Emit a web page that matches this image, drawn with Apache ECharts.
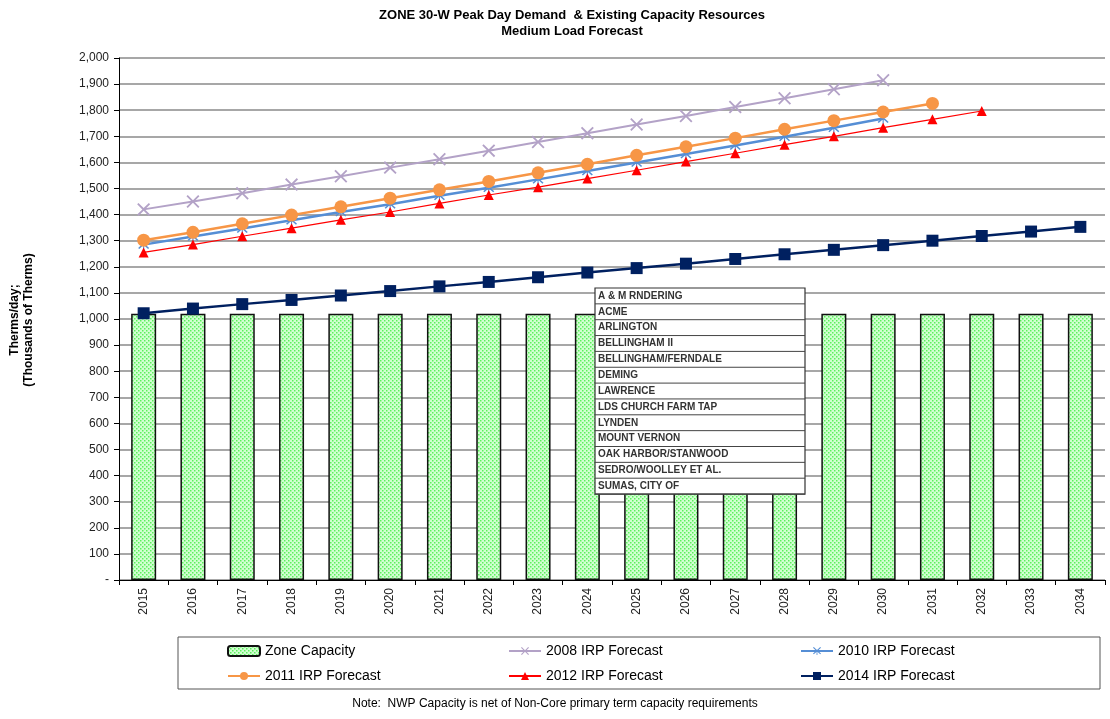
<!DOCTYPE html>
<html>
<head>
<meta charset="utf-8">
<script src="https://cdn.jsdelivr.net/npm/echarts@6/dist/echarts.min.js"></script>
<style>
html,body{margin:0;padding:0;background:#fff;}
#chartmain{width:1110px;height:719px;}
</style>
</head>
<body>
<div id="chartmain"></div>
<script>
var years = ['2015','2016','2017','2018','2019','2020','2021','2022','2023','2024','2025','2026','2027','2028','2029','2030','2031','2032','2033','2034'];
var zoneCapacity = [1020,1020,1020,1020,1020,1020,1020,1020,1020,1020,1020,1020,1020,1020,1020,1020,1020,1020,1020,1020];
var irp2008 = [1420,1450,1482,1515,1547,1580,1612,1645,1678,1712,1745,1778,1812,1846,1880,1915];
var irp2010 = [1285,1316,1347,1378,1410,1440,1472,1503,1535,1567,1600,1632,1665,1698,1733,1768];
var irp2011 = [1302,1332,1365,1398,1430,1463,1495,1527,1560,1593,1627,1660,1693,1727,1760,1793,1826];
var irp2012 = [1255,1285,1317,1348,1380,1410,1443,1475,1505,1538,1570,1603,1635,1668,1700,1733,1765,1797];
var irp2014 = [1022,1040,1057,1073,1090,1107,1125,1142,1160,1178,1195,1212,1230,1248,1265,1283,1300,1318,1335,1353];
var gateNames = ['A & M RNDERING','ACME','ARLINGTON','BELLINGHAM II','BELLINGHAM/FERNDALE','DEMING','LAWRENCE','LDS CHURCH FARM TAP','LYNDEN','MOUNT VERNON','OAK HARBOR/STANWOOD','SEDRO/WOOLLEY ET AL.','SUMAS, CITY OF'];

// dotted green fill for the capacity bars
function dotPattern(){
	var c = document.createElement('canvas');
	c.width = 4; c.height = 4;
	var ctx = c.getContext('2d');
	ctx.fillStyle = '#d0ffd0';
	ctx.fillRect(0,0,4,4);
	ctx.fillStyle = '#5cf05c';
	ctx.fillRect(0,0,1.5,1.5);
	ctx.fillRect(2,2,1.5,1.5);
	return c;
}

var crossPath = 'path://M0,1L1,0L5,4L9,0L10,1L6,5L10,9L9,10L5,6L1,10L0,9L4,5Z';
var starPath = 'path://M0,1L1,0L5,4L9,0L10,1L6,5L10,9L9,10L5.5,6.5L5.5,11L4.5,11L4.5,6.5L1,10L0,9L4,5Z';

// the list box of gate stations laid over the chart
var boxLeft = 595, boxTop = 288, rowH = 15.85, boxW = 210;
var boxItems = [{
	type:'rect', shape:{x:boxLeft,y:boxTop,width:boxW,height:rowH*gateNames.length},
	style:{fill:'#fff',stroke:'#333',lineWidth:1.2}, z:100
}];
for(var i=0;i<gateNames.length;i++){
	boxItems.push({
		type:'line', shape:{x1:boxLeft,y1:boxTop+rowH*(i+1),x2:boxLeft+boxW,y2:boxTop+rowH*(i+1)},
		style:{stroke:'#444',lineWidth:1}, z:101
	});
	boxItems.push({
		type:'text', left:boxLeft+3, top:boxTop+rowH*i+3,
		style:{text:gateNames[i],fill:'#333',font:'bold 10px Arial'}, z:102
	});
}
boxItems.push({
	type:'rect', shape:{x:178,y:637,width:922,height:52},
	style:{fill:null,stroke:'#555',lineWidth:1}, z:1
});

var legendFont = {fontFamily:'Arial',fontSize:14,color:'#000'};
function leg(name,left,top){
	return {data:[name],left:left,top:top,itemWidth:32,itemHeight:10,textStyle:legendFont,selectedMode:false};
}

var myChart = echarts.init(document.getElementById('chartmain'));
var option = {
	animation:false,
	backgroundColor:'#fff',
	title:{
		text:'ZONE 30-W Peak Day Demand  & Existing Capacity Resources\nMedium Load Forecast',
		left:567, top:2, textAlign:'center',
		textStyle:{fontFamily:'Arial',fontSize:13,fontWeight:'bold',lineHeight:16,color:'#000'}
	},
	legend:[
		leg('Zone Capacity',222,639),
		leg('2008 IRP Forecast',503,639),
		leg('2010 IRP Forecast',795,639),
		leg('2011 IRP Forecast',222,664),
		leg('2012 IRP Forecast',503,664),
		leg('2014 IRP Forecast',795,664)
	],
	graphic:[
		{type:'group',children:boxItems},
		{type:'text',left:'center',top:698,style:{text:'Note:  NWP Capacity is net of Non-Core primary term capacity requirements',fill:'#000',font:'12px Arial'}},
		{type:'text',x:22,y:320,rotation:Math.PI/2,style:{text:'Therms/day;\n(Thousands of Therms)',fill:'#000',font:'bold 12px Arial',align:'center',verticalAlign:'middle',lineHeight:14}}
	],
	grid:{left:119,right:5,top:58,bottom:139},
	xAxis:{
		type:'category', data:years,
		axisLine:{lineStyle:{color:'#000',width:1}},
		axisTick:{show:true,length:5,lineStyle:{color:'#000'}},
		axisLabel:{rotate:90,fontFamily:'Arial',fontSize:12,color:'#222',margin:8}
	},
	yAxis:{
		type:'value', min:0, max:2000, interval:100,
		axisLine:{show:true,lineStyle:{color:'#000',width:1}},
		axisTick:{show:true,length:5,lineStyle:{color:'#000'}},
		axisLabel:{fontFamily:'Arial',fontSize:12,color:'#222',margin:10,
			formatter:function(v){ return v===0 ? '-' : v.toLocaleString('en-US'); }},
		splitLine:{lineStyle:{color:'#8a8a8a',width:1.5}}
	},
	series:[
		{
			name:'Zone Capacity', type:'bar', data:zoneCapacity, barWidth:25,
			itemStyle:{color:{image:dotPattern(),repeat:'repeat'},borderColor:'#111',borderWidth:1.5}
		},
		{
			name:'2008 IRP Forecast', type:'line', data:irp2008,
			symbol:crossPath, symbolSize:13,
			lineStyle:{color:'#b3a2c7',width:2}, itemStyle:{color:'#b3a2c7'}
		},
		{
			name:'2010 IRP Forecast', type:'line', data:irp2010,
			symbol:starPath, symbolSize:11,
			lineStyle:{color:'#558ed5',width:2.5}, itemStyle:{color:'#558ed5'}
		},
		{
			name:'2011 IRP Forecast', type:'line', data:irp2011,
			symbol:'circle', symbolSize:13,
			lineStyle:{color:'#f79646',width:2.5}, itemStyle:{color:'#f79646'}
		},
		{
			name:'2012 IRP Forecast', type:'line', data:irp2012,
			symbol:'triangle', symbolSize:10,
			lineStyle:{color:'#ff0000',width:1.2}, itemStyle:{color:'#ff0000'}
		},
		{
			name:'2014 IRP Forecast', type:'line', data:irp2014,
			symbol:'rect', symbolSize:12,
			lineStyle:{color:'#002060',width:2.5}, itemStyle:{color:'#002060'}
		}
	]
};
myChart.setOption(option);
</script>
</body>
</html>
